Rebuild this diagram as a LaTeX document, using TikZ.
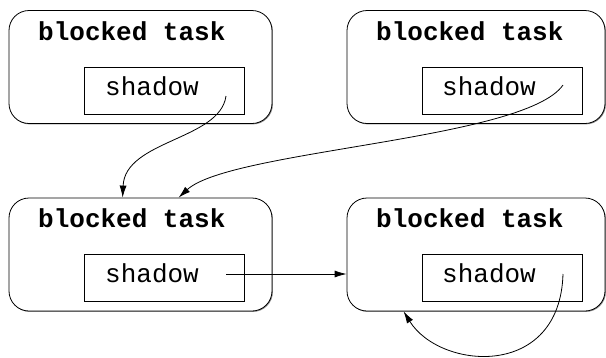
\documentclass[tikz,border=0pt]{standalone}
\usepackage{fontspec}
\setmonofont{Liberation Mono}
\usetikzlibrary{arrows.meta,shadows,calc}
\begin{document}
\begin{tikzpicture}[x=1pt,y=-1pt,
  taskbox/.style={draw=black,line width=0.8pt,fill=white,rounded corners=20pt,
    minimum width=#1,minimum height=113pt,inner sep=0pt,
    drop shadow={shadow xshift=0.9pt,shadow yshift=-0.9pt,fill=black!45,opacity=1}},
  shadowbox/.style={draw=black,line width=0.8pt,fill=white,
    minimum width=160pt,minimum height=47pt,inner sep=0pt,
    drop shadow={shadow xshift=0.9pt,shadow yshift=-0.9pt,fill=black!45,opacity=1}},
  title/.style={anchor=base west,inner sep=0pt,font=\ttfamily\bfseries\fontsize{26}{26}\selectfont},
  stext/.style={anchor=base west,inner sep=0pt,font=\ttfamily\fontsize{26}{26}\selectfont},
  link/.style={line width=0.8pt,-{Latex[length=12pt,width=7pt]}}]
\useasboundingbox (0,0) rectangle (606,357);
% top left
\node[taskbox=263pt] (TL) at (140.5,67) {};
\node[title] (TLt) at (38,40) {blocked task};
\node[shadowbox] (TLs) at (164,90.5) {};
\node[stext] (TLst) at (105,95) {shadow};
% top right
\node[taskbox=258pt] (TR) at (476,67) {};
\node[title] (TRt) at (376,40) {blocked task};
\node[shadowbox] (TRs) at (502,90.5) {};
\node[stext] (TRst) at (442,95) {shadow};
% bottom left
\node[taskbox=263pt] (BL) at (140.5,254.5) {};
\node[title] (BLt) at (38,227) {blocked task};
\node[shadowbox] (BLs) at (164,277.5) {};
\node[stext] (BLst) at (105,282) {shadow};
% bottom right
\node[taskbox=258pt] (BR) at (476,254.5) {};
\node[title] (BRt) at (376,227) {blocked task};
\node[shadowbox] (BRs) at (502,277.5) {};
\node[stext] (BRst) at (442,282) {shadow};
% connector start points
\coordinate (a1) at ($(TLs.center)+(62,5.5)$);
\coordinate (a2) at ($(TRs.center)+(61,-5.5)$);
\coordinate (a3) at ($(BLs.center)+(62,-3.5)$);
\coordinate (a4) at ($(BRs.center)+(61,-3.5)$);
\coordinate (e1) at ($(BL.north west)+(114,0)$);
\coordinate (e2) at ($(BL.north west)+(170,0)$);
\coordinate (e4) at ($(BR.south west)+(57,0)$);
% connectors
\draw[link] (a1) .. controls (220,140) and (125,140) .. (e1);
\draw[link] (a2) .. controls (525,140) and (230,150) .. (e2);
\draw[link] (a3) -- (a3 -| BR.west);
\draw[link] (a4) .. controls (560,380) and (440,370) .. (e4);
\end{tikzpicture}
\end{document}
